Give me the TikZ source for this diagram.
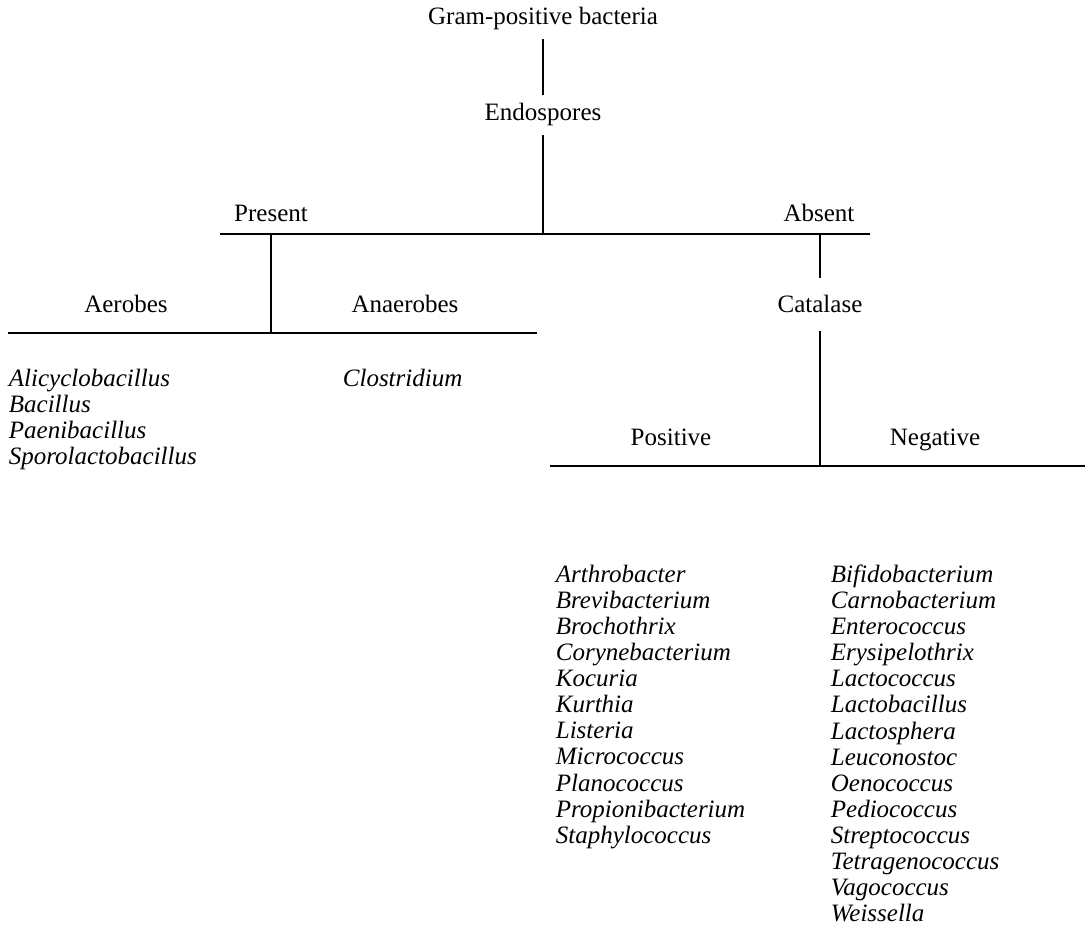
\documentclass[tikz,border=0pt]{standalone}
\usepackage{fontspec}
\setmainfont{Liberation Serif}
\newcommand\chartfont{\fontsize{10}{10.44}\selectfont}
\begin{document}
\begin{tikzpicture}[
  x=0.4pt,y=-0.4pt,
  line width=0.7pt,
  label/.style={anchor=base,inner sep=3pt,font=\chartfont},
  genera/.style={anchor=north west,align=left,inner sep=0pt,font=\chartfont\itshape}
]
  \useasboundingbox (0,0) rectangle (1092,938);

  \node[label] (gram) at (543,25) {Gram-positive bacteria};
  \node[label] (endo) at (543,121) {Endospores};
  \node[label] (present) at (271,222) {Present};
  \node[label] (absent) at (819,222) {Absent};
  \node[label] (aerobes) at (126,313) {Aerobes};
  \node[label] (anaerobes) at (405,313) {Anaerobes};
  \node[label,outer sep=4pt] (catalase) at (820,313) {Catalase};
  \node[label] (positive) at (671,446) {Positive};
  \node[label] (negative) at (935,446) {Negative};

  \coordinate (split) at (220,234);
  \coordinate (split end) at (870,234);
  \coordinate (oxy) at (8,333);
  \coordinate (oxy end) at (537,333);
  \coordinate (cat) at (550,466);
  \coordinate (cat end) at (1085,466);

  \draw (gram) -- (endo);
  \draw (endo) -- (endo |- split);
  \draw (split) -- (split end);
  \draw (present |- split) -- (present |- oxy);
  \draw (oxy) -- (oxy end);
  \draw (catalase |- split) -- (catalase);
  \draw (catalase) -- (catalase |- cat);
  \draw (cat) -- (cat end);

  \node[genera] (aero list) at (8,368)
    {Alicyclobacillus\\Bacillus\\Paenibacillus\\Sporolactobacillus};
  \node[genera] (anaero list) at (342,368) {Clostridium};
  \node[genera] (pos list) at (555,564)
    {Arthrobacter\\Brevibacterium\\Brochothrix\\Corynebacterium\\Kocuria\\Kurthia\\Listeria\\Micrococcus\\Planococcus\\Propionibacterium\\Staphylococcus};
  \node[genera] (neg list) at (830,564)
    {Bifidobacterium\\Carnobacterium\\Enterococcus\\Erysipelothrix\\Lactococcus\\Lactobacillus\\Lactosphera\\Leuconostoc\\Oenococcus\\Pediococcus\\Streptococcus\\Tetragenococcus\\Vagococcus\\Weissella};
\end{tikzpicture}
\end{document}
